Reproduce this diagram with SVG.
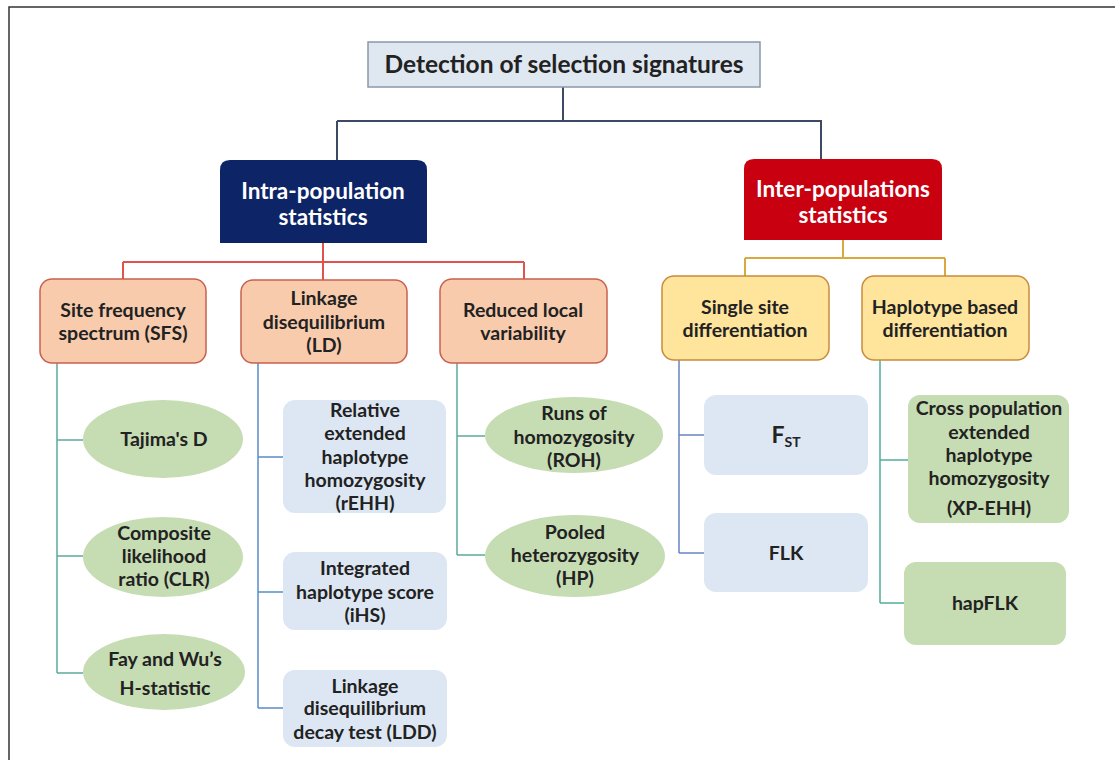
<svg xmlns="http://www.w3.org/2000/svg" width="1115" height="760" viewBox="0 0 1115 760">
<style>
text{font-family:Lato,"Open Sans","Liberation Sans",sans-serif;font-weight:bold;text-anchor:middle;fill:#222}
.t{font-size:19.5px}
.w{fill:#ffffff;font-size:22.5px}
.sal{fill:#f8cbad;stroke:#c8604f;stroke-width:1.5}
.yel{fill:#ffe49c;stroke:#c98a3c;stroke-width:1.5}
.grn{fill:#c6dcb2}
.blu{fill:#dde7f3}
.c{fill:none;stroke-width:2}
.cs{fill:none;stroke-width:1.5}
</style>
<rect width="1115" height="760" fill="#ffffff"/>
<path d="M9,760 V7 H1115" fill="none" stroke="#333" stroke-width="1.5"/>
<g id="connectors">
<path class="c" stroke="#3d4a66" d="M563,87 V121 M337,121 H822 M337,121 V160 M821,121 V159"/>
<path class="c" stroke="#e0534d" d="M323,243 V262 M123,262 H524 M123,262 V279 M323,262 V280 M524,262 V279"/>
<path class="c" stroke="#d9a93f" d="M843,240 V258 M745,258 H945 M745,258 V276 M945,258 V276"/>
<path class="cs" stroke="#5eaa9c" d="M57,363 V673 M57,440 H83 M57,556 H83 M57,673 H83"/>
<path class="cs" stroke="#5a8ccb" d="M258,363 V708 M258,457 H283 M258,592 H283 M258,708 H283"/>
<path class="cs" stroke="#5eaa9c" d="M457,363 V555 M457,436 H485 M457,555 H485"/>
<path class="cs" stroke="#6a84c4" d="M679,360 V553 M679,435 H704 M679,553 H704"/>
<path class="cs" stroke="#4faf9b" d="M880,360 V603 M880,460 H908 M880,603 H904"/>
</g>
<g id="root">
<rect x="368" y="42" width="392" height="45" fill="#dfe7f1" stroke="#8b97a8" stroke-width="1.5"/>
<text x="564" y="73" style="font-size:24.5px">Detection of selection signatures</text>
</g>
<g id="intra">
<path d="M220,243 V170 Q220,160 230,160 H417 Q427,160 427,170 V243 Z" fill="#0d2466"/>
<text class="w" x="323" y="199">Intra-population</text>
<text class="w" x="323" y="225">statistics</text>
</g>
<g id="inter">
<path d="M744,240 V169 Q744,159 754,159 H932 Q942,159 942,169 V240 Z" fill="#c8000f"/>
<text class="w" x="843" y="197">Inter-populations</text>
<text class="w" x="843" y="223">statistics</text>
</g>
<g id="sfs">
<rect class="sal" x="40" y="279" width="166" height="84" rx="12"/>
<text class="t" x="123" y="317">Site frequency</text>
<text class="t" x="123" y="340">spectrum (SFS)</text>
</g>
<g id="ld">
<rect class="sal" x="241" y="280" width="166" height="83" rx="12"/>
<text class="t" x="324" y="305">Linkage</text>
<text class="t" x="324" y="329">disequilibrium</text>
<text class="t" x="324" y="352">(LD)</text>
</g>
<g id="reduced">
<rect class="sal" x="440" y="279" width="167" height="84" rx="12"/>
<text class="t" x="523" y="317">Reduced local</text>
<text class="t" x="523" y="340">variability</text>
</g>
<g id="single">
<rect class="yel" x="662" y="276" width="167" height="84" rx="12"/>
<text class="t" x="745" y="314">Single site</text>
<text class="t" x="745" y="337">differentiation</text>
</g>
<g id="haplotype">
<rect class="yel" x="862" y="276" width="167" height="84" rx="12"/>
<text class="t" x="945" y="314">Haplotype based</text>
<text class="t" x="945" y="337">differentiation</text>
</g>
<g id="tajima">
<ellipse class="grn" cx="163" cy="439" rx="80" ry="39"/>
<text class="t" x="164" y="446">Tajima's D</text>
</g>
<g id="clr">
<ellipse class="grn" cx="163" cy="557" rx="80" ry="40"/>
<text class="t" x="164" y="540">Composite</text>
<text class="t" x="164" y="563">likelihood</text>
<text class="t" x="164" y="586">ratio (CLR)</text>
</g>
<g id="fay">
<ellipse class="grn" cx="164" cy="672" rx="81" ry="38"/>
<text class="t" x="165" y="666">Fay and Wu’s</text>
<text class="t" x="165" y="695">H-statistic</text>
</g>
<g id="rehh">
<rect class="blu" x="283" y="400" width="163" height="113" rx="12"/>
<text class="t" x="365" y="417">Relative</text>
<text class="t" x="365" y="440">extended</text>
<text class="t" x="365" y="464">haplotype</text>
<text class="t" x="365" y="487">homozygosity</text>
<text class="t" x="365" y="510">(rEHH)</text>
</g>
<g id="ihs">
<rect class="blu" x="283" y="552" width="164" height="78" rx="12"/>
<text class="t" x="365" y="575">Integrated</text>
<text class="t" x="365" y="599">haplotype score</text>
<text class="t" x="365" y="622">(iHS)</text>
</g>
<g id="ldd">
<rect class="blu" x="283" y="670" width="164" height="77" rx="12"/>
<text class="t" x="365" y="693">Linkage</text>
<text class="t" x="365" y="715">disequilibrium</text>
<text class="t" x="365" y="739">decay test (LDD)</text>
</g>
<g id="roh">
<ellipse class="grn" cx="574" cy="435" rx="89" ry="38"/>
<text class="t" x="574" y="420">Runs of</text>
<text class="t" x="574" y="444">homozygosity</text>
<text class="t" x="574" y="467">(ROH)</text>
</g>
<g id="hp">
<ellipse class="grn" cx="575" cy="556" rx="90" ry="41"/>
<text class="t" x="575" y="539">Pooled</text>
<text class="t" x="575" y="562">heterozygosity</text>
<text class="t" x="575" y="585">(HP)</text>
</g>
<g id="fst">
<rect class="blu" x="704" y="395" width="164" height="80" rx="12"/>
<text x="786" y="443" style="font-size:23px">F<tspan dy="4" style="font-size:14px">ST</tspan></text>
</g>
<g id="flk">
<rect class="blu" x="704" y="513" width="164" height="79" rx="12"/>
<text class="t" x="786" y="560">FLK</text>
</g>
<g id="xpehh">
<rect class="grn" x="908" y="395" width="161" height="128" rx="12"/>
<text class="t" x="989" y="415">Cross population</text>
<text class="t" x="989" y="439">extended</text>
<text class="t" x="989" y="462">haplotype</text>
<text class="t" x="989" y="485">homozygosity</text>
<text class="t" x="989" y="515">(XP-EHH)</text>
</g>
<g id="hapflk">
<rect class="grn" x="904" y="562" width="162" height="83" rx="12"/>
<text class="t" x="985" y="610">hapFLK</text>
</g>
</svg>
